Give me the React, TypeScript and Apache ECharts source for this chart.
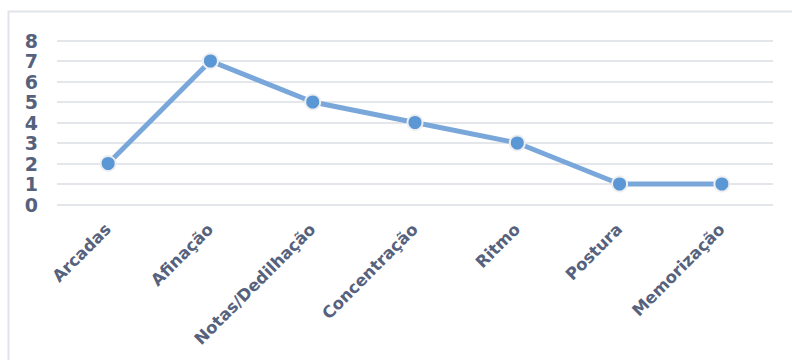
import React, { useEffect, useRef } from "react";
import * as echarts from "echarts";

const categories = ["Arcadas", "Afinação", "Notas/Dedilhação", "Concentração", "Ritmo", "Postura", "Memorização"];
const values = [2, 7, 5, 4, 3, 1, 1];
const yMin = 0;
const yMax = 8;
const yInterval = 1;

export default function App() {
  const ref = useRef<HTMLDivElement>(null);
  useEffect(() => {
    if (!ref.current) return;
    const chart = echarts.init(ref.current, undefined, { renderer: "svg" });
    chart.setOption({
      animation: false,
      backgroundColor: "#ffffff",
      graphic: [
        {
          type: "rect",
          shape: { x: 8.5, y: 11.5, width: 800, height: 400 },
          style: { fill: "none", stroke: "#e1e4e9", lineWidth: 2 },
          silent: true,
        },
      ],
      grid: { left: 57, right: 19, top: 40.5, bottom: 155.5, containLabel: false },
      xAxis: {
        type: "category",
        data: categories,
        boundaryGap: true,
        axisLine: { show: false },
        axisTick: { show: false },
        axisLabel: {
          rotate: 45,
          margin: 22,
          interval: 0,
          color: "#56627d",
          fontFamily: "DejaVu Sans",
          fontWeight: "bold",
          fontSize: 16.5,
        },
      },
      yAxis: {
        type: "value",
        min: yMin,
        max: yMax,
        interval: yInterval,
        axisLine: { show: false },
        axisTick: { show: false },
        splitLine: { lineStyle: { color: "#e3e6eb", width: 2 } },
        axisLabel: {
          margin: 19,
          color: "#56627d",
          fontFamily: "DejaVu Sans",
          fontWeight: "bold",
          fontSize: 19,
          lineHeight: 19,
        },
      },
      series: [
        {
          type: "line",
          data: values,
          symbol: "circle",
          symbolSize: 15,
          lineStyle: { color: "#79a7da", width: 5 },
          itemStyle: { color: "#5b97d4", borderColor: "#eceef1", borderWidth: 2 },
        },
      ],
    });
    return () => chart.dispose();
  }, []);
  return (
    <div
      ref={ref}
      style={{ position: "fixed", left: 0, top: 0, width: 792, height: 360 }}
    />
  );
}
